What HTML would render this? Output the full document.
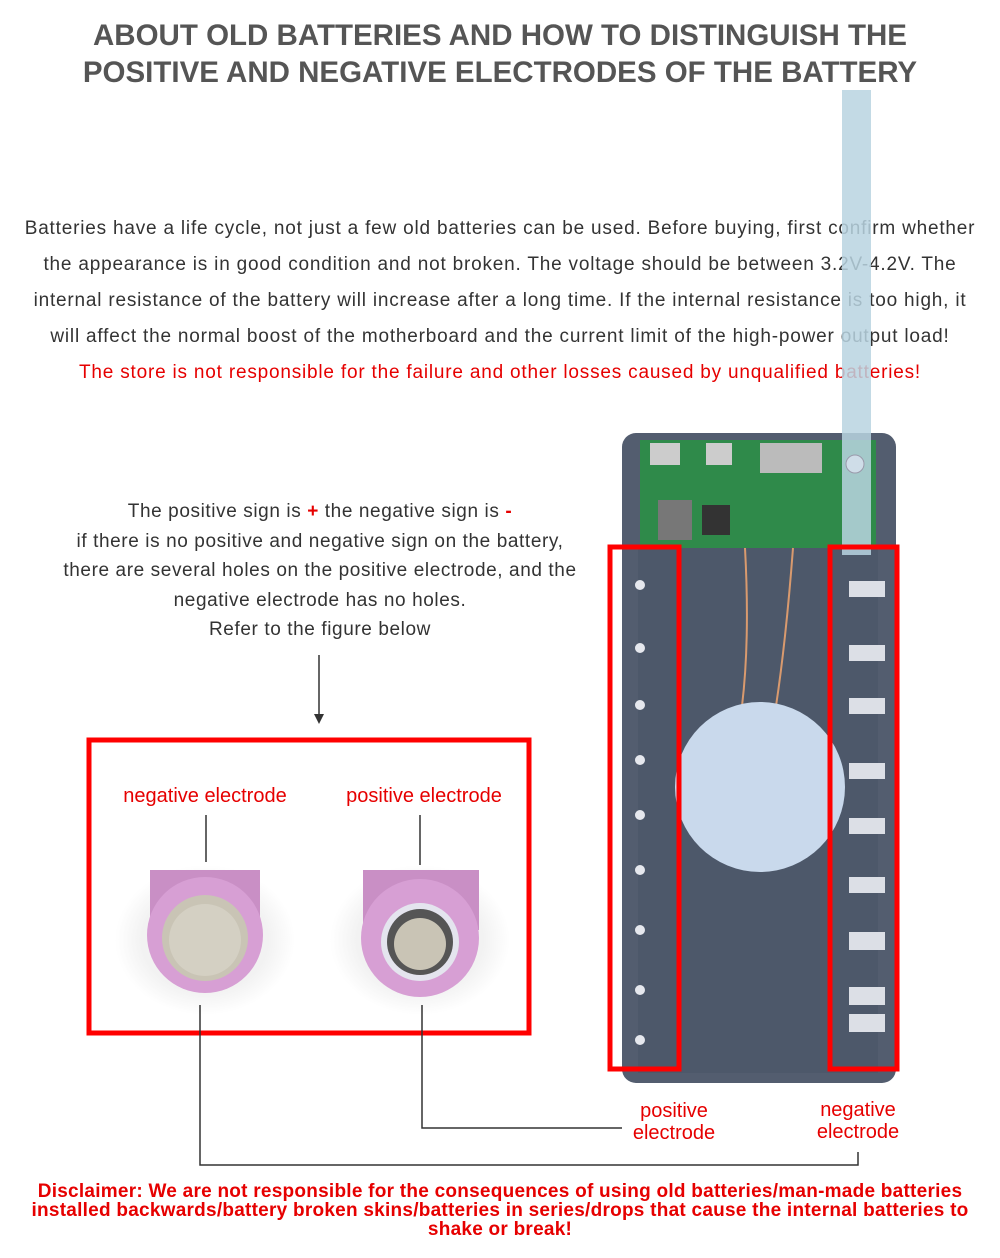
<!DOCTYPE html>
<html><head><meta charset="utf-8"><style>
body{margin:0;background:#fff;width:1000px;height:1258px;overflow:hidden;position:relative;font-family:"Liberation Sans",sans-serif}
.t{position:absolute;left:0;width:1000px;text-align:center;white-space:nowrap}
</style></head><body>
<div class="t" style="top:17px;font-size:29.5px;line-height:37px;color:#555;font-weight:bold">ABOUT OLD BATTERIES AND HOW TO DISTINGUISH THE<br>POSITIVE AND NEGATIVE ELECTRODES OF THE BATTERY</div>
<div class="t" style="top:211px;font-size:19px;line-height:36px;color:#333;letter-spacing:0.8px">Batteries have a life cycle, not just a few old batteries can be used. Before buying, first confirm whether<br>the appearance is in good condition and not broken. The voltage should be between 3.2V-4.2V. The<br>internal resistance of the battery will increase after a long time. If the internal resistance is too high, it<br>will affect the normal boost of the motherboard and the current limit of the high-power output load!<br><span style="color:#e60000">The store is not responsible for the failure and other losses caused by unqualified batteries!</span></div>
<div style="position:absolute;left:15px;width:610px;top:497px;text-align:center;font-size:19px;line-height:29.5px;color:#333;letter-spacing:0.6px;white-space:nowrap">The positive sign is <b style="color:#e60000">+</b> the negative sign is <b style="color:#e60000">-</b><br>if there is no positive and negative sign on the battery,<br>there are several holes on the positive electrode, and the<br>negative electrode has no holes.<br>Refer to the figure below</div>
<svg style="position:absolute;left:0;top:0" width="1000" height="1258">
<defs><radialGradient id="g1" cx="0.5" cy="0.5" r="0.5"><stop offset="0.7" stop-color="#f2f2f2"/><stop offset="1" stop-color="#fff"/></radialGradient></defs>
<rect x="622" y="433" width="274" height="650" rx="14" fill="#535d6f"/>
<rect x="640" y="440" width="236" height="108" fill="#2f8a4a"/>
<rect x="650" y="443" width="30" height="22" fill="#ccc"/><rect x="706" y="443" width="26" height="22" fill="#ccc"/>
<rect x="760" y="443" width="62" height="30" fill="#bbb"/>
<rect x="658" y="500" width="34" height="40" fill="#777"/><rect x="702" y="505" width="28" height="30" fill="#333"/>
<rect x="638" y="548" width="240" height="525" fill="#4d586a"/>
<path d="M745 548 Q750 640 742 706 M793 548 Q786 640 776 706" stroke="#d99a6e" stroke-width="2" fill="none"/>
<circle cx="760" cy="787" r="85" fill="#c9d9ec"/>
<g fill="#e6e8ee">
<circle cx="640" cy="585" r="5"/><circle cx="640" cy="648" r="5"/><circle cx="640" cy="705" r="5"/><circle cx="640" cy="760" r="5"/><circle cx="640" cy="815" r="5"/><circle cx="640" cy="870" r="5"/><circle cx="640" cy="930" r="5"/><circle cx="640" cy="990" r="5"/><circle cx="640" cy="1040" r="5"/>
</g>
<g fill="#dcdfe6">
<rect x="849" y="581" width="36" height="16"/><rect x="849" y="645" width="36" height="16"/><rect x="849" y="698" width="36" height="16"/><rect x="849" y="763" width="36" height="16"/><rect x="849" y="818" width="36" height="16"/><rect x="849" y="877" width="36" height="16"/><rect x="849" y="932" width="36" height="18"/><rect x="849" y="987" width="36" height="18"/><rect x="849" y="1014" width="36" height="18"/>
</g>
<rect x="842" y="90" width="29" height="465" fill="#b8d3e0" opacity="0.85"/>
<circle cx="855" cy="464" r="9" fill="#cfdde8" stroke="#99a" />
<rect x="610" y="547" width="69" height="522" fill="none" stroke="#f00" stroke-width="5"/>
<rect x="830" y="547" width="67" height="522" fill="none" stroke="#f00" stroke-width="5"/>
<rect x="89" y="740" width="440" height="293" fill="none" stroke="#f00" stroke-width="5"/>
<ellipse cx="205" cy="940" rx="90" ry="75" fill="url(#g1)"/>
<ellipse cx="420" cy="940" rx="90" ry="75" fill="url(#g1)"/>
<rect x="150" y="870" width="110" height="60" fill="#c98fc5"/>
<circle cx="205" cy="935" r="58" fill="#d79fd4"/><circle cx="205" cy="938" r="43" fill="#c9c4b5"/><circle cx="205" cy="940" r="36" fill="#d4d0c3"/>
<rect x="363" y="870" width="116" height="60" fill="#c98fc5"/>
<circle cx="420" cy="938" r="59" fill="#d79fd4"/><circle cx="420" cy="942" r="39" fill="#e4e4ee"/><circle cx="420" cy="942" r="33" fill="#555"/><circle cx="420" cy="944" r="26" fill="#c9c4b5"/>
<g stroke="#333" stroke-width="1.5" fill="none">
<line x1="319" y1="655" x2="319" y2="718"/>
<line x1="206" y1="815" x2="206" y2="862"/><line x1="420" y1="815" x2="420" y2="865"/>
<polyline points="200,1005 200,1165 858,1165 858,1152"/>
<polyline points="422,1005 422,1128 622,1128"/>
</g>
<path d="M314 714 L319 724 L324 714 Z" fill="#333"/>
</svg>
<div style="position:absolute;left:90px;width:230px;top:785px;text-align:center;color:#e60000;font-size:20px;white-space:nowrap">negative electrode</div>
<div style="position:absolute;left:309px;width:230px;top:785px;text-align:center;color:#e60000;font-size:20px;white-space:nowrap">positive electrode</div>
<div style="position:absolute;left:614px;width:120px;top:1100px;text-align:center;color:#e60000;font-size:20px;line-height:22px">positive<br>electrode</div>
<div style="position:absolute;left:798px;width:120px;top:1099px;text-align:center;color:#e60000;font-size:20px;line-height:22px">negative<br>electrode</div>
<div class="t" style="top:1182px;color:#e60000;font-size:19px;line-height:19px;font-weight:bold;letter-spacing:0.25px">Disclaimer: We are not responsible for the consequences of using old batteries/man-made batteries<br>installed backwards/battery broken skins/batteries in series/drops that cause the internal batteries to<br>shake or break!</div>
</body></html>
